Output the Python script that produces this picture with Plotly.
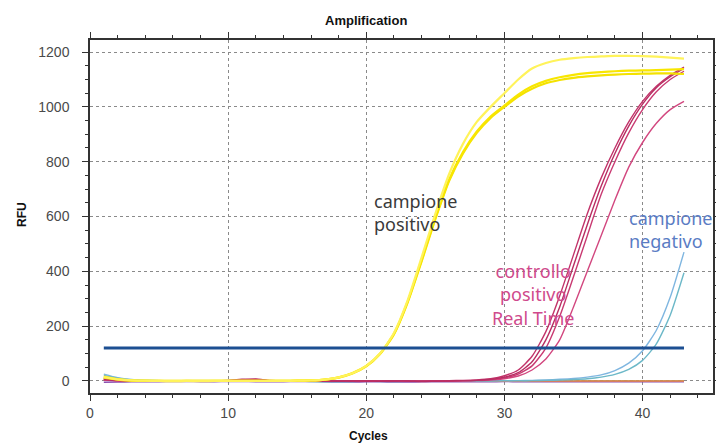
import plotly.graph_objects as go

cycles = list(range(1, 44))

# --- campione positivo (yellow) ---
yellow_upper = [14, 6, 2, 1, 0, 0, 0, -1, 0, 0, 0, 0, 0, 0, 1, 2, 5, 13, 28, 55,
                100, 175, 295, 450, 610, 755, 865, 945, 1000, 1050, 1100, 1140, 1160, 1172, 1178, 1182, 1184, 1186, 1186, 1185,
                1183, 1180, 1176]
yellow_lower1 = [16, 7, 2, 1, 0, 0, 0, 0, 0, 0, 0, 0, 0, 0, 1, 2, 5, 13, 29, 55,
                 100, 172, 290, 440, 595, 735, 835, 910, 965, 1005, 1045, 1075, 1095, 1108, 1117, 1123, 1127, 1130, 1132, 1133,
                 1134, 1136, 1138]
yellow_lower2 = [12, 5, 1, 0, 0, -1, 0, 0, 0, 0, 0, 0, 0, 0, 1, 2, 5, 12, 27, 53,
                 98, 170, 287, 435, 590, 730, 830, 905, 960, 1000, 1038, 1066, 1086, 1098, 1106, 1111, 1115, 1118, 1120, 1121,
                 1122, 1122, 1120]

# --- controllo positivo Real Time (magenta) ---
pink_a = [6, 2, 0, 0, -1, 0, 0, 0, 1, 2, 6, 5, 1, 0, -1, 0, 0, -1, 0, 0,
          -1, 0, 0, -2, -1, 0, 1, 2, 6, 14, 30, 70, 150, 270, 420, 570, 710, 830, 930, 1010,
          1070, 1110, 1140]
pink_b = [5, 1, 0, -1, 0, 0, 1, 0, 0, 1, 4, 7, 2, 0, 0, -1, 0, 0, -1, 0,
          0, -1, 0, -1, 0, 1, 2, 4, 8, 19, 40, 90, 180, 310, 460, 610, 740, 850, 945, 1020,
          1075, 1115, 1145]
pink_c = [4, 1, 0, 0, 0, -1, 0, 0, 0, 1, 3, 4, 1, 0, 0, 0, -1, 0, 0, -1,
          0, 0, -1, 0, 0, 0, 1, 2, 5, 11, 25, 55, 120, 235, 380, 530, 680, 800, 905, 990,
          1055, 1100, 1130]
pink_d = [3, 0, -1, 0, 0, 0, 0, -1, 0, 0, 2, 3, 1, 0, 0, -1, 0, 0, 0, -1,
          0, 0, 0, -1, 0, 0, 0, 1, 3, 8, 18, 40, 80, 150, 270, 400, 530, 660, 780, 870,
          940, 990, 1020]

# --- campione negativo (light blue) ---
blue_a = [25, 12, 5, 2, 1, 0, 0, 0, -1, 0, 0, -1, 0, 0, 0, -1, -2, -3, -2, -1,
          -2, -1, 0, -1, 0, 0, 0, 0, 1, 1, 1, 2, 4, 6, 9, 14, 22, 38, 65, 110,
          185, 305, 470]
blue_b = [20, 10, 4, 2, 1, 0, 0, -1, 0, 0, -1, 0, 0, -1, 0, -2, -3, -2, -2, -1,
          -1, -2, -1, 0, -1, 0, 0, 0, 0, 1, 1, 1, 2, 3, 5, 8, 14, 24, 42, 75,
          135, 240, 395]

# --- other baselines ---
orange_base = [10, 4, 1, 0, 0, 0, -1, 0, 0, 0, 1, 2, 1, 0, 0, 0, 0, 0, 0, 0,
               0, 0, 0, 0, 0, 0, 0, 0, 0, 0, 0, 0, 0, 0, 0, 0, 0, 0, 0, 0,
               0, 0, 0]
purple_base = [-5, -4, -3, -3, -3, -2, -2, -3, -3, -2, -2, -3, -3, -3, -2, -2, -3, -4, -4, -3,
               -3, -4, -4, -3, -3, -3, -3, -3, -3, -2, -3, -3, -3, -3, -3, -3, -3, -3, -3, -3,
               -3, -3, -3]
green_base = [8, 4, 2, 1, 1, 1, 1, 1, 1, 1, 1, 1, 1, 1, 1, 1, 1, 1, 1, 1,
              1, 1, 1, 1, 1, 1, 1, 1, 1, 1, 1, 1, 1, 1, 1, 1, 1, 1, 1, 1,
              1, 1, 1]

threshold_x = [1, 43]
threshold_y = [120, 120]

x_ticks = [0, 10, 20, 30, 40]
y_ticks = [0, 200, 400, 600, 800, 1000, 1200]

fig = go.Figure()

def add(y, color, width):
    fig.add_trace(go.Scatter(x=cycles, y=y, mode="lines",
                             line=dict(color=color, width=width, shape="spline", smoothing=0.6),
                             hoverinfo="skip", showlegend=False))

add(purple_base, "#8a4fb0", 1.5)
add(green_base, "#4fa870", 1.0)
add(orange_base, "#f2884a", 1.5)
add(blue_a, "#7fb6e0", 1.4)
add(blue_b, "#6cb8c8", 1.4)
add(pink_d, "#d2477f", 1.4)
add(pink_c, "#c93a72", 1.4)
add(pink_b, "#c2336a", 1.4)
add(pink_a, "#b82d62", 1.4)
add(yellow_lower2, "#f4e200", 2.2)
add(yellow_lower1, "#f8e600", 2.2)
add(yellow_upper, "#fff35a", 2.2)

fig.add_trace(go.Scatter(x=threshold_x, y=threshold_y, mode="lines",
                         line=dict(color="#1c4f92", width=3),
                         hoverinfo="skip", showlegend=False))

grid = dict(showgrid=True, gridcolor="#8a8a8a", griddash="dot", gridwidth=1)
fig.update_xaxes(range=[0, 45.1], tickvals=x_ticks, zeroline=False, automargin=False,
                 showline=True, linecolor="#333", linewidth=1.5, mirror="allticks",
                 ticks="outside", ticklen=6, tickcolor="#333",
                 minor=dict(dtick=2, ticks="outside", ticklen=3, tickcolor="#333", showgrid=False),
                 tickfont=dict(family="Liberation Sans, Arial", size=14, color="#4a4a4a"),
                 ticklabelstandoff=0, **grid)
fig.update_yaxes(range=[-44, 1244], tickvals=y_ticks, zeroline=False, automargin=False,
                 showline=True, linecolor="#333", linewidth=1.5, mirror="allticks",
                 ticks="outside", ticklen=6, tickcolor="#333",
                 minor=dict(dtick=50, ticks="outside", ticklen=3, tickcolor="#333", showgrid=False),
                 tickfont=dict(family="Liberation Sans, Arial", size=14, color="#4a4a4a"),
                 ticklabelstandoff=10, **grid)

L, R, T, B = 90, 713, 40, 393

def px(xp, yp):
    return (xp - L) / (R - L), (B - yp) / (B - T)

txt = "Noto Sans"
tx, ty = px(366, 20)
cx, cy = px(368, 436)
rx, ry = px(22, 215)
annotations = [
    dict(text="<b>Amplification</b>", x=tx, y=ty, xref="paper", yref="paper",
         showarrow=False, font=dict(family="Liberation Sans, Arial", size=13, color="#111")),
    dict(text="<b>Cycles</b>", x=cx, y=cy, xref="paper", yref="paper",
         showarrow=False, font=dict(family="Liberation Sans, Arial", size=12, color="#111")),
    dict(text="<b>RFU</b>", x=rx, y=ry, xref="paper", yref="paper", textangle=-90,
         showarrow=False, font=dict(family="Liberation Sans, Arial", size=12, color="#111")),
    dict(text="campione<br>positivo", x=20.4, y=616, xref="x", yref="y", xanchor="left", align="left",
         showarrow=False, font=dict(family=txt, size=18, color="#3a3a3a")),
    dict(text="controllo<br>positivo<br>Real Time", x=32.1, y=317, xref="x", yref="y", align="center",
         showarrow=False, font=dict(family=txt, size=18, color="#cf4a8c")),
    dict(text="campione<br>negativo", x=38.9, y=551, xref="x", yref="y", xanchor="left", align="left",
         showarrow=False, font=dict(family=txt, size=18, color="#5a7cc4")),
]
for a in annotations:
    a.setdefault("yanchor", "middle")
    a.setdefault("xanchor", "center")

fig.update_layout(
    width=716, height=443,
    margin=dict(l=L, r=716 - R, t=T, b=443 - B, autoexpand=False),
    paper_bgcolor="white", plot_bgcolor="white",
    annotations=annotations,
)

fig.write_html("out.html", config={"displayModeBar": False},
               post_script="document.body.style.margin='0';document.body.style.overflow='hidden';")
